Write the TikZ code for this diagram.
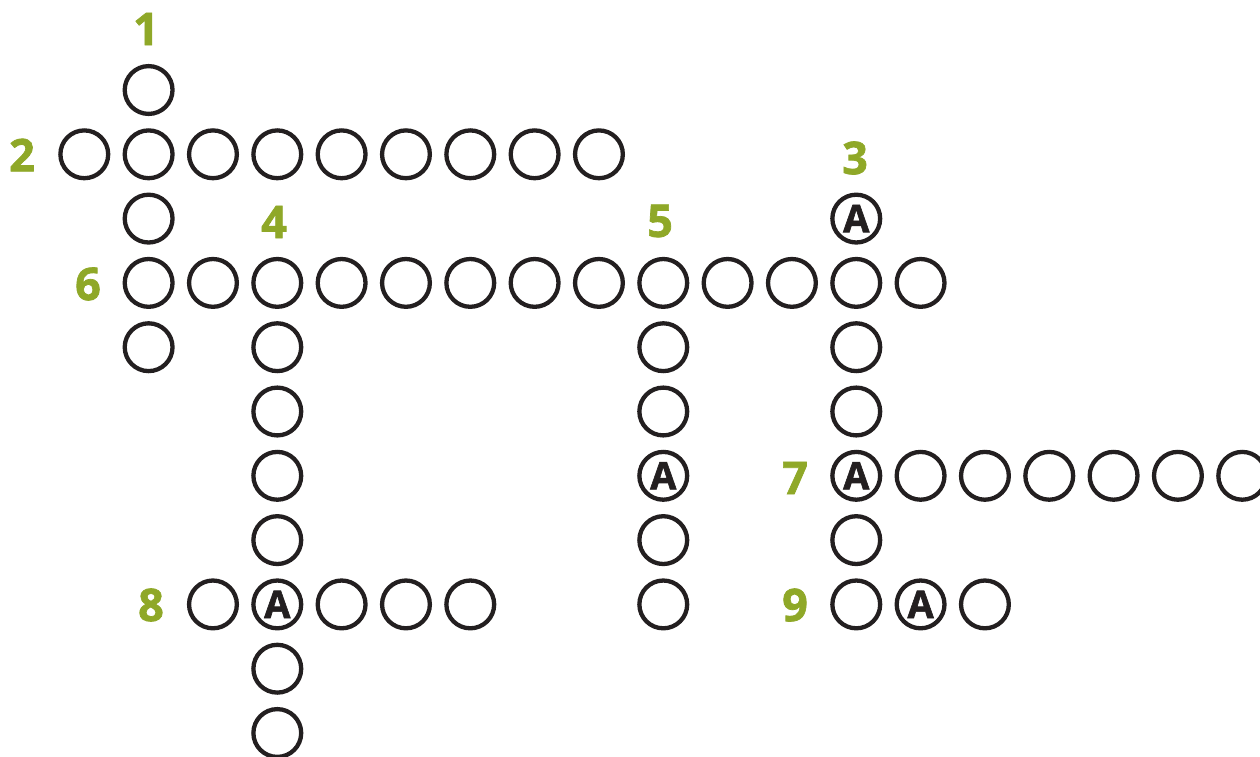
\documentclass[tikz,border=0pt]{standalone}
\usepackage{fontspec}
\setmainfont{Open Sans}
\newfontfamily\heavyfont{Open Sans}[BoldFeatures={FakeBold=1.6}]
\definecolor{ink}{HTML}{231F20}
\definecolor{leaf}{HTML}{8FA828}
\begin{document}
\begin{tikzpicture}[x=1pt,y=-1pt,
  cell/.style={circle,draw=ink,line width=4.3pt,minimum size=47.8pt,inner sep=0pt,
    font=\heavyfont\fontsize{38}{38}\selectfont\bfseries,text=ink},
  num/.style={font=\heavyfont\fontsize{45}{45}\selectfont\bfseries,text=leaf,inner sep=0pt}]
\useasboundingbox (0,0) rectangle (1260,756);
\newcommand{\cx}[1]{84.3+64.33*#1}
\newcommand{\cy}[1]{90+64.3*#1}
\newcommand{\cellat}[3]{\node[cell] (c-#1-#2) at ({\cx{#1}},{\cy{#2}}) {#3};}
% row 0
\cellat{1}{0}{}
% row 1
\foreach \i in {0,...,8} {\cellat{\i}{1}{}}
% row 2
\cellat{1}{2}{}
\cellat{12}{2}{\raisebox{-0.05em}{A}}
% row 3
\foreach \i in {1,...,13} {\cellat{\i}{3}{}}
% row 4
\foreach \i in {1,3,9,12} {\cellat{\i}{4}{}}
% row 5
\foreach \i in {3,9,12} {\cellat{\i}{5}{}}
% row 6
\cellat{3}{6}{}
\cellat{9}{6}{\raisebox{-0.05em}{A}}
\cellat{12}{6}{\raisebox{-0.05em}{A}}
\foreach \i in {13,...,18} {\cellat{\i}{6}{}}
% row 7
\foreach \i in {3,9,12} {\cellat{\i}{7}{}}
% row 8
\cellat{2}{8}{}
\cellat{3}{8}{\raisebox{-0.05em}{A}}
\foreach \i in {4,5,6,9,12,14} {\cellat{\i}{8}{}}
\cellat{13}{8}{\raisebox{-0.05em}{A}}
% rows 9, 10
\cellat{3}{9}{}
\cellat{3}{10}{}
% clue numbers
\node[num] (l1) at (146,29) {1};
\node[num] (l2) at (22,155) {2};
\node[num] (l3) at (855,158) {3};
\node[num] (l4) at (274,222) {4};
\node[num] (l5) at (660,221) {5};
\node[num] (l6) at (88,284) {6};
\node[num] (l7) at (795,478) {7};
\node[num] (l8) at (151,605) {8};
\node[num] (l9) at (795,605) {9};
\end{tikzpicture}
\end{document}
